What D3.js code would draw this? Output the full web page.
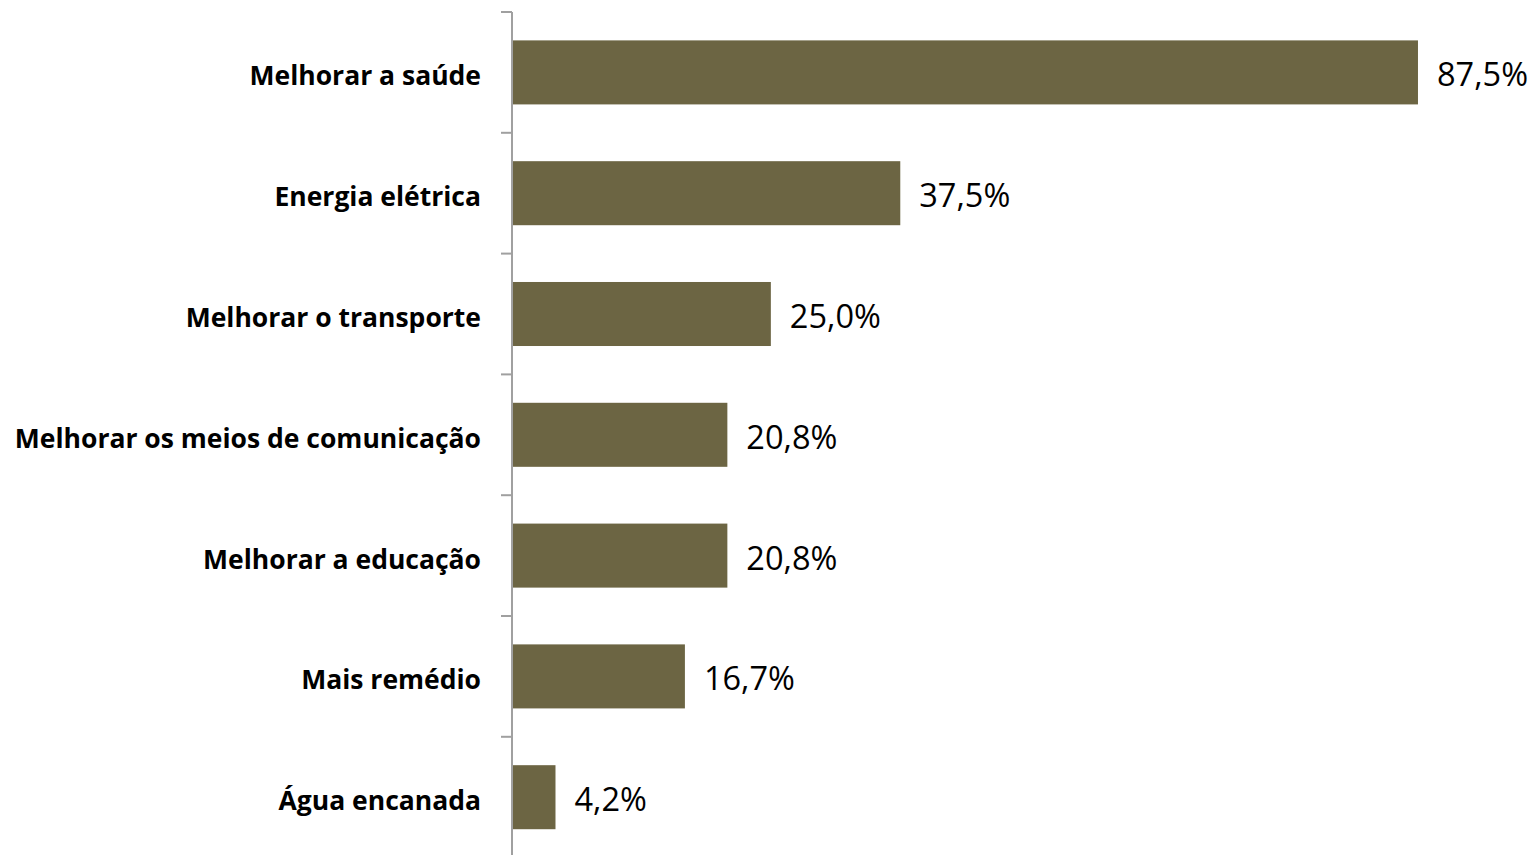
<!DOCTYPE html>
<meta charset="utf-8">
<style>
  body { margin: 0; background: #fff; }
</style>
<svg width="1537" height="855"></svg>

<script src="https://d3js.org/d3.v7.min.js"></script>
<script>

var categories = [
  "Melhorar a saúde",
  "Energia elétrica",
  "Melhorar o transporte",
  "Melhorar os meios de comunicação",
  "Melhorar a educação",
  "Mais remédio",
  "Água encanada"
]

var values = [87.5, 37.5, 25.0, 20.8, 20.8, 16.7, 4.2]

var valueLabels = ["87,5%", "37,5%", "25,0%", "20,8%", "20,8%", "16,7%", "4,2%"]

var data = categories.map(function (c, i) {
  return { cat: c, value: values[i], label: valueLabels[i] }
})

var svg = d3.select('svg')
var axisX = 512

var x = d3.scaleLinear()
  .domain([0, 100])
  .range([axisX, axisX + 1035.4])

var y = d3.scaleBand()
  .domain(categories)
  .range([12, 857.6])
  .paddingInner(0.47)
  .paddingOuter(0.235)

// bars
svg.append('g').selectAll('rect')
  .data(data)
  .enter().append('rect')
  .attr('x', x(0))
  .attr('y', function (d) { return y(d.cat) })
  .attr('width', function (d) { return x(d.value) - x(0) })
  .attr('height', y.bandwidth())
  .attr('fill', '#6c6543')

// category axis: line + ticks between categories
var axis = svg.append('g')
axis.append('line')
  .attr('x1', axisX).attr('x2', axisX)
  .attr('y1', 12).attr('y2', 855)
  .attr('stroke', '#a0a0a0')
  .attr('stroke-width', 2)

var tickYs = d3.range(categories.length).map(function (i) {
  return y.range()[0] + i * y.step()
})
axis.selectAll('line.tick')
  .data(tickYs)
  .enter().append('line')
  .attr('class', 'tick')
  .attr('x1', axisX - 11).attr('x2', axisX)
  .attr('y1', function (d) { return d }).attr('y2', function (d) { return d })
  .attr('stroke', '#a0a0a0')
  .attr('stroke-width', 2)

// category labels
svg.append('g').selectAll('text')
  .data(data)
  .enter().append('text')
  .attr('x', axisX - 31)
  .attr('y', function (d) { return y(d.cat) + y.bandwidth() / 2 + 13 })
  .attr('text-anchor', 'end')
  .attr('font-family', '"Open Sans", sans-serif')
  .attr('font-weight', 'bold')
  .attr('font-size', 26.5)
  .attr('fill', '#000')
  .text(function (d) { return d.cat })

// value labels
svg.append('g').selectAll('text')
  .data(data)
  .enter().append('text')
  .attr('x', function (d) { return x(d.value) + 19 })
  .attr('y', function (d) { return y(d.cat) + y.bandwidth() / 2 + 14 })
  .attr('font-family', '"Open Sans", sans-serif')
  .attr('font-size', 32.5)
  .attr('fill', '#000')
  .text(function (d) { return d.label })

</script>
